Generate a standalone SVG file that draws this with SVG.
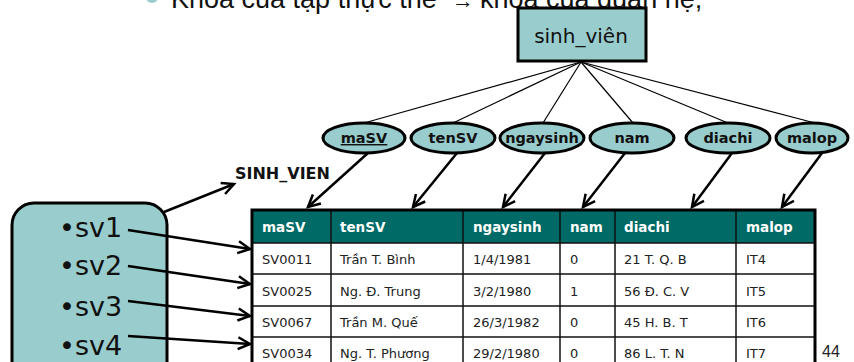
<svg xmlns="http://www.w3.org/2000/svg" width="854" height="362" viewBox="0 0 854 362">
<defs>
<marker id="ah" markerUnits="userSpaceOnUse" markerWidth="16" markerHeight="16" refX="13" refY="7" orient="auto" viewBox="0 0 16 14">
<path d="M1,1 L13,7 L1,13" fill="none" stroke="#000" stroke-width="2.5" stroke-linejoin="miter"/>
</marker>
</defs>
<style>
.fill{fill:#99cccc;stroke:#000;stroke-width:3}
.thin{stroke:#000;stroke-width:1.2;fill:none}
.arr{stroke:#000;stroke-width:2.5;fill:none;marker-end:url(#ah)}
.att{font-family:"DejaVu Sans",sans-serif;font-weight:bold;font-size:14.5px;fill:#111;text-anchor:middle}
.hd{font-family:"DejaVu Sans",sans-serif;font-weight:bold;font-size:13.5px;fill:#fff}
.td{font-family:"DejaVu Sans",sans-serif;font-size:13px;fill:#222}
.sv{font-family:"DejaVu Sans",sans-serif;font-size:27px;fill:#111}
.grid{stroke:#111;stroke-width:1.5}
</style>
<rect width="854" height="362" fill="#fff"/>

<g id="title">
<circle cx="152" cy="-3" r="6" fill="#99cccc"/>
<text font-family="'Liberation Sans',Arial,sans-serif" font-size="27" fill="#111" y="8"><tspan x="171">Khoá của tập thực thể</tspan><tspan x="452" font-size="22">→</tspan><tspan x="480">khoá của quan hệ;</tspan></text>
</g>

<g id="sinh_vien">
<rect class="fill" x="518" y="8" width="128" height="53"/>
<text x="581" y="43" font-family="'DejaVu Sans',sans-serif" font-size="20" fill="#111" text-anchor="middle">sinh_viên</text>
</g>

<g id="attr_maSV"><ellipse class="fill" cx="364" cy="138" rx="41" ry="15"/><text class="att" x="364" y="143" text-decoration="underline">maSV</text></g>
<g id="attr_tenSV"><ellipse class="fill" cx="453" cy="138" rx="42" ry="15"/><text class="att" x="453" y="143">tenSV</text></g>
<g id="attr_ngaysinh"><ellipse class="fill" cx="542" cy="138" rx="42" ry="15"/><text class="att" x="542" y="143">ngaysinh</text></g>
<g id="attr_nam"><ellipse class="fill" cx="632" cy="138" rx="42" ry="15"/><text class="att" x="632" y="143">nam</text></g>
<g id="attr_diachi"><ellipse class="fill" cx="728" cy="138" rx="42" ry="15"/><text class="att" x="728" y="143">diachi</text></g>
<g id="attr_malop"><ellipse class="fill" cx="812" cy="138" rx="36" ry="15"/><text class="att" x="812" y="143">malop</text></g>

<g id="label_SINH_VIEN">
<text x="235" y="179" font-family="'DejaVu Sans',sans-serif" font-weight="bold" font-size="16" fill="#111">SINH_VIEN</text>
</g>

<g id="entity_set">
<rect class="fill" x="12" y="203" width="155" height="185" rx="22"/>
<text class="sv" x="59" y="237">•sv1</text>
<text class="sv" x="59" y="275">•sv2</text>
<text class="sv" x="59" y="316">•sv3</text>
<text class="sv" x="59" y="355">•sv4</text>
</g>

<g id="table">
<rect x="252" y="210" width="563" height="33" fill="#006a66"/>
<rect x="252" y="243" width="563" height="125" fill="#fff"/>
<g class="grid">
<line x1="252" y1="243" x2="815" y2="243"/>
<line x1="252" y1="274" x2="815" y2="274"/>
<line x1="252" y1="306" x2="815" y2="306"/>
<line x1="252" y1="337" x2="815" y2="337"/>
<line x1="331" y1="210" x2="331" y2="368"/>
<line x1="463" y1="210" x2="463" y2="368"/>
<line x1="560" y1="210" x2="560" y2="368"/>
<line x1="615" y1="210" x2="615" y2="368"/>
<line x1="736" y1="210" x2="736" y2="368"/>
</g>
<rect x="252" y="210" width="563" height="158" fill="none" stroke="#000" stroke-width="3"/>
<text class="hd" x="262" y="232">maSV</text>
<text class="hd" x="340" y="232">tenSV</text>
<text class="hd" x="473" y="232">ngaysinh</text>
<text class="hd" x="570" y="232">nam</text>
<text class="hd" x="624" y="232">diachi</text>
<text class="hd" x="746" y="232">malop</text>

<text class="td" x="262" y="264">SV0011</text><text class="td" x="340" y="264">Trần T. Bình</text><text class="td" x="473" y="264">1/4/1981</text><text class="td" x="570" y="264">0</text><text class="td" x="624" y="264">21 T. Q. B</text><text class="td" x="746" y="264">IT4</text>
<text class="td" x="262" y="296">SV0025</text><text class="td" x="340" y="296">Ng. Đ. Trung</text><text class="td" x="473" y="296">3/2/1980</text><text class="td" x="570" y="296">1</text><text class="td" x="624" y="296">56 Đ. C. V</text><text class="td" x="746" y="296">IT5</text>
<text class="td" x="262" y="327">SV0067</text><text class="td" x="340" y="327">Trần M. Quế</text><text class="td" x="473" y="327">26/3/1982</text><text class="td" x="570" y="327">0</text><text class="td" x="624" y="327">45 H. B. T</text><text class="td" x="746" y="327">IT6</text>
<text class="td" x="262" y="358">SV0034</text><text class="td" x="340" y="358">Ng. T. Phương</text><text class="td" x="473" y="358">29/2/1980</text><text class="td" x="570" y="358">0</text><text class="td" x="624" y="358">86 L. T. N</text><text class="td" x="746" y="358">IT7</text>
</g>

<g id="page_number">
<text x="822" y="357" font-family="'Liberation Sans',Arial,sans-serif" font-size="16" fill="#222">44</text>
</g>

<g id="connectors">
<line class="thin" x1="581" y1="62" x2="364" y2="123"/>
<line class="thin" x1="581" y1="62" x2="453" y2="123"/>
<line class="thin" x1="581" y1="62" x2="543" y2="123"/>
<line class="thin" x1="581" y1="62" x2="633" y2="123"/>
<line class="thin" x1="581" y1="62" x2="728" y2="123"/>
<line class="thin" x1="581" y1="62" x2="815" y2="123"/>
<line class="arr" x1="368" y1="153" x2="308" y2="207"/>
<line class="arr" x1="457" y1="153" x2="413" y2="207"/>
<line class="arr" x1="545" y1="153" x2="503" y2="207"/>
<line class="arr" x1="625" y1="153" x2="583" y2="207"/>
<line class="arr" x1="732" y1="153" x2="692" y2="207"/>
<line class="arr" x1="822" y1="153" x2="782" y2="207"/>
<line class="arr" x1="164" y1="212" x2="234" y2="184"/>
<line class="arr" x1="128" y1="230" x2="250" y2="249"/>
<line class="arr" x1="128" y1="266" x2="250" y2="284"/>
<line class="arr" x1="128" y1="301" x2="250" y2="316"/>
<line class="arr" x1="128" y1="336" x2="250" y2="344"/>
</g>
</svg>
